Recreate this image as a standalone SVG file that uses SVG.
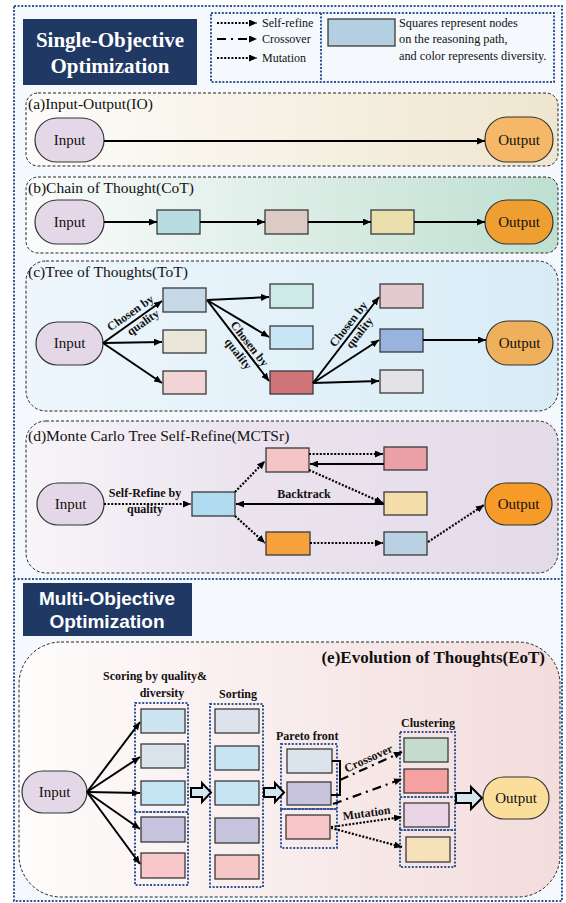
<svg xmlns="http://www.w3.org/2000/svg" width="566" height="903" viewBox="0 0 566 903">
<defs>
<marker id="ah" viewBox="0 0 8 7" refX="8" refY="3.5" markerWidth="8" markerHeight="7" markerUnits="userSpaceOnUse" orient="auto"><path d="M0,0 L8,3.5 L0,7 z" fill="#000"/></marker>
<linearGradient id="gA" x1="0" y1="0" x2="1" y2="0"><stop offset="0" stop-color="#fdfcfa"/><stop offset="1" stop-color="#efe6cf"/></linearGradient>
<linearGradient id="gB" x1="0" y1="0" x2="1" y2="0"><stop offset="0" stop-color="#fbfcfc"/><stop offset="1" stop-color="#bedfd1"/></linearGradient>
<linearGradient id="gC" x1="0" y1="0" x2="1" y2="0"><stop offset="0" stop-color="#eef6fc"/><stop offset="1" stop-color="#d8ecf6"/></linearGradient>
<linearGradient id="gD" x1="0" y1="0" x2="1" y2="0"><stop offset="0" stop-color="#f8f5f9"/><stop offset="0.4" stop-color="#ebe4ee"/><stop offset="1" stop-color="#e4dbe9"/></linearGradient>
<linearGradient id="gE" x1="0" y1="0" x2="1" y2="0"><stop offset="0" stop-color="#fefcfc"/><stop offset="1" stop-color="#f3dcdc"/></linearGradient>
</defs>
<style>
.box{stroke:#222;stroke-width:1;stroke-dasharray:3 2;}
.pill{stroke:#333;stroke-width:1.2;}
.rc{stroke:#3a3a3a;stroke-width:1.3;}
.blue{fill:none;stroke:#2f5597;stroke-width:2;stroke-dasharray:2 1.6;}
.t{font-family:"Liberation Serif","Times New Roman",serif;fill:#111;}
.nt{font-family:"Liberation Serif","Times New Roman",serif;fill:#111;font-size:15px;text-anchor:middle;}
.ttl{font-family:"Liberation Serif","Times New Roman",serif;fill:#111;font-size:15.5px;}
.lbl{font-family:"Liberation Serif","Times New Roman",serif;fill:#111;font-weight:bold;font-size:12px;text-anchor:middle;}
.sl{fill:none;stroke:#000;stroke-width:2;marker-end:url(#ah);}
.dl{fill:none;stroke:#000;stroke-width:2.2;stroke-dasharray:2 1.6;marker-end:url(#ah);}
.dd{fill:none;stroke:#000;stroke-width:2.2;stroke-dasharray:9 5 2 5;marker-end:url(#ah);}
.blk{fill:#d5e6ee;stroke:#000;stroke-width:2;stroke-linejoin:miter;}
.in{fill:#e4d8e8;}
</style>

<g id="frame">
<rect x="14" y="6" width="548" height="895" fill="#f5f9fd"/>
<rect x="14" y="6" width="548" height="895" class="blue"/>
<line x1="14" y1="579" x2="562" y2="579" class="blue"/>
</g>

<g id="title-single">
<rect x="23" y="19" width="174" height="66" fill="#1f3864"/>
<text x="110" y="47" font-family="Liberation Serif, serif" font-weight="bold" font-size="21" fill="#fff" text-anchor="middle">Single-Objective</text>
<text x="110" y="73" font-family="Liberation Serif, serif" font-weight="bold" font-size="21" fill="#fff" text-anchor="middle">Optimization</text>
</g>

<g id="legend">
<rect x="211" y="13" width="343" height="69" class="blue"/>
<line x1="321" y1="13" x2="321" y2="82" class="blue"/>
<path d="M217,23 H257" class="dl"/>
<path d="M217,39 H257" class="dd"/>
<path d="M217,58 H257" class="dl"/>
<text x="262" y="27" class="t" font-size="12">Self-refine</text>
<text x="262" y="43" class="t" font-size="12">Crossover</text>
<text x="262" y="62" class="t" font-size="12">Mutation</text>
<rect x="328" y="19" width="67" height="27" fill="#b4cee2" class="rc"/>
<text x="399" y="27" class="t" font-size="12.3">Squares represent nodes</text>
<text x="399" y="43" class="t" font-size="12.3">on the reasoning path,</text>
<text x="399" y="60" class="t" font-size="12.3">and color represents diversity.</text>
</g>

<g id="panel-a">
<rect x="26" y="93" width="532" height="73" rx="12" fill="url(#gA)" class="box"/>
<text x="28" y="109" class="ttl">(a)Input-Output(IO)</text>
</g>
<g id="a-input"><rect x="35" y="118" width="69" height="44" rx="22" class="pill in"/><text x="69.5" y="145" class="nt">Input</text></g>
<g id="a-output"><rect x="485" y="117" width="68" height="45" rx="22" fill="#f5b868" class="pill"/><text x="519" y="145" class="nt">Output</text></g>

<g id="panel-b">
<rect x="26" y="177" width="532" height="76" rx="12" fill="url(#gB)" class="box"/>
<text x="28" y="193" class="ttl">(b)Chain of Thought(CoT)</text>
</g>
<g id="b-input"><rect x="35" y="200" width="69" height="44" rx="22" class="pill in"/><text x="69.5" y="227" class="nt">Input</text></g>
<g id="b-n1"><rect x="157" y="210" width="43" height="24" fill="#b8dde0" class="rc"/></g>
<g id="b-n2"><rect x="265" y="210" width="43" height="24" fill="#dccbc4" class="rc"/></g>
<g id="b-n3"><rect x="371" y="210" width="43" height="24" fill="#e8dfad" class="rc"/></g>
<g id="b-output"><rect x="485" y="200" width="68" height="44" rx="22" fill="#ef9f32" class="pill"/><text x="519" y="227" class="nt">Output</text></g>

<g id="panel-c">
<rect x="26" y="261" width="532" height="150" rx="20" fill="url(#gC)" class="box"/>
<text x="28" y="277" class="ttl">(c)Tree of Thoughts(ToT)</text>
</g>
<g id="c-input"><rect x="36" y="322" width="67" height="43" rx="21.5" class="pill in"/><text x="69.5" y="348" class="nt">Input</text></g>
<g id="c-n1"><rect x="163" y="288" width="43" height="24" fill="#c5d9e9" class="rc"/></g>
<g id="c-n2"><rect x="163" y="330" width="43" height="23" fill="#ebe6da" class="rc"/></g>
<g id="c-n3"><rect x="163" y="371" width="43" height="23" fill="#f2d3d6" class="rc"/></g>
<g id="c-n4"><rect x="270" y="284" width="43" height="24" fill="#cdeae8" class="rc"/></g>
<g id="c-n5"><rect x="270" y="326" width="43" height="23" fill="#c8e6f6" class="rc"/></g>
<g id="c-n6"><rect x="270" y="371" width="43" height="23" fill="#cf7479" class="rc"/></g>
<g id="c-n7"><rect x="380" y="284" width="43" height="24" fill="#e4c9d1" class="rc"/></g>
<g id="c-n8"><rect x="380" y="329" width="43" height="23" fill="#98b3dd" class="rc"/></g>
<g id="c-n9"><rect x="380" y="370" width="43" height="23" fill="#e2e2e7" class="rc"/></g>
<g id="c-output"><rect x="486" y="321" width="67" height="44" rx="22" fill="#efb05c" class="pill"/><text x="519.5" y="348" class="nt">Output</text></g>

<g id="panel-d">
<rect x="26" y="421" width="532" height="152" rx="20" fill="url(#gD)" class="box"/>
<text x="28" y="441" class="ttl">(d)Monte Carlo Tree Self-Refine(MCTSr)</text>
</g>
<g id="d-input"><rect x="37" y="483" width="67" height="42" rx="21" class="pill in"/><text x="70.5" y="509" class="nt">Input</text></g>
<g id="d-n1"><rect x="192" y="492" width="43" height="24" fill="#b0dbf1" class="rc"/></g>
<g id="d-n2"><rect x="266" y="448" width="43" height="24" fill="#f5c4c4" class="rc"/></g>
<g id="d-n3"><rect x="384" y="447" width="43" height="23" fill="#eba0a8" class="rc"/></g>
<g id="d-n4"><rect x="384" y="492" width="43" height="23" fill="#f5dcab" class="rc"/></g>
<g id="d-n5"><rect x="266" y="532" width="44" height="23" fill="#f6a13c" class="rc"/></g>
<g id="d-n6"><rect x="384" y="532" width="43" height="23" fill="#bad0e3" class="rc"/></g>
<g id="d-output"><rect x="485" y="483" width="67" height="42" rx="21" fill="#f79b28" class="pill"/><text x="518.5" y="509" class="nt">Output</text></g>

<g id="title-multi">
<rect x="23" y="583" width="169" height="53" fill="#1f3864"/>
<text x="107" y="605" font-family="Liberation Sans, Arial, sans-serif" font-weight="bold" font-size="19" fill="#fff" text-anchor="middle">Multi-Objective</text>
<text x="107" y="628" font-family="Liberation Sans, Arial, sans-serif" font-weight="bold" font-size="19" fill="#fff" text-anchor="middle">Optimization</text>
</g>

<g id="panel-e">
<rect x="19" y="642" width="541" height="255" rx="42" fill="url(#gE)" class="box"/>
<text x="545" y="663" class="t" font-size="17" font-weight="bold" text-anchor="end">(e)Evolution of Thoughts(EoT)</text>
<text x="155" y="680" class="lbl">Scoring by quality&amp;</text>
<text x="162" y="697" class="lbl">diversity</text>
<text x="238" y="698" class="lbl">Sorting</text>
<text x="276" y="740" class="lbl" text-anchor="start" style="text-anchor:start">Pareto front</text>
<text x="428" y="727" class="lbl">Clustering</text>
</g>
<g id="e-input"><rect x="22" y="771" width="65" height="42" rx="21" class="pill in"/><text x="54.5" y="797" class="nt">Input</text></g>

<g id="e-scoring">
<rect x="135" y="703" width="53" height="109" class="blue"/>
<rect x="135" y="812" width="53" height="73" class="blue"/>
<rect x="141" y="709" width="44" height="24" fill="#cde4f1" class="rc"/>
<rect x="141" y="744" width="44" height="24" fill="#dae3ec" class="rc"/>
<rect x="141" y="781" width="44" height="24" fill="#c5e4f3" class="rc"/>
<rect x="141" y="817" width="44" height="25" fill="#c5c3dd" class="rc"/>
<rect x="141" y="853" width="44" height="25" fill="#f7c7c9" class="rc"/>
</g>
<g id="e-sorting">
<rect x="210" y="704" width="53" height="183" class="blue"/>
<rect x="215" y="709" width="44" height="24" fill="#dde3ec" class="rc"/>
<rect x="215" y="746" width="44" height="24" fill="#c8e4f3" class="rc"/>
<rect x="215" y="781" width="44" height="24" fill="#c6e4f3" class="rc"/>
<rect x="215" y="818" width="44" height="25" fill="#c6c3dd" class="rc"/>
<rect x="215" y="855" width="44" height="24" fill="#f7c6c6" class="rc"/>
</g>
<g id="e-pareto">
<rect x="281" y="744" width="56" height="65" class="blue"/>
<rect x="281" y="809" width="56" height="39" class="blue"/>
<rect x="287" y="749" width="45" height="24" fill="#dbe3ec" class="rc"/>
<rect x="287" y="782" width="44" height="23" fill="#c8c3dc" class="rc"/>
<rect x="286" y="815" width="44" height="24" fill="#f7c6c9" class="rc"/>
</g>
<g id="e-clustering">
<rect x="400" y="732" width="55" height="65" class="blue"/>
<rect x="400" y="797" width="55" height="33" class="blue"/>
<rect x="400" y="830" width="55" height="37" class="blue"/>
<rect x="404" y="738" width="44" height="24" fill="#c5dccd" class="rc"/>
<rect x="404" y="769" width="44" height="24" fill="#f6a1a1" class="rc"/>
<rect x="404" y="803" width="45" height="24" fill="#e9d4e5" class="rc"/>
<rect x="406" y="837" width="44" height="25" fill="#f6e2ba" class="rc"/>
</g>
<g id="e-output"><rect x="483" y="777" width="66" height="42" rx="21" fill="#fbdd9c" class="pill"/><text x="516" y="803" class="nt">Output</text></g>

<g id="connectors">
<!-- a -->
<path d="M104,141 H485" class="sl"/>
<!-- b -->
<path d="M104,222 H157" class="sl"/>
<path d="M200,222 H265" class="sl"/>
<path d="M308,222 H371" class="sl"/>
<path d="M414,222 H485" class="sl"/>
<!-- c -->
<path d="M103,343 L162,301" class="sl"/>
<path d="M103,343 L162,342" class="sl"/>
<path d="M103,343 L162,383" class="sl"/>
<path d="M207,300 L269,297" class="sl"/>
<path d="M207,300 L269,337" class="sl"/>
<path d="M207,300 L269,381" class="sl"/>
<path d="M313,383 L379,297" class="sl"/>
<path d="M313,383 L379,340" class="sl"/>
<path d="M313,383 L379,381" class="sl"/>
<path d="M423,340 H486" class="sl"/>
<g transform="translate(133,322) rotate(-35)"><text x="3" y="-5" class="lbl" font-size="11.5">Chosen by</text><text x="8" y="10" class="lbl" font-size="11.5">quality</text></g>
<g transform="translate(238.5,341) rotate(52)"><text x="9" y="-3" class="lbl" font-size="11.5">Chosen by</text><text x="10" y="12" class="lbl" font-size="11.5">quality</text></g>
<g transform="translate(346,340) rotate(-52)"><text x="14" y="-4" class="lbl" font-size="11.5">Chosen by</text><text x="14" y="10" class="lbl" font-size="11.5">quality</text></g>
<!-- d -->
<path d="M104,504 L191,504" class="dl"/>
<text x="145" y="497" class="lbl">Self-Refine by</text>
<text x="145" y="513" class="lbl">quality</text>
<path d="M235,492 L265,461" class="dl"/>
<path d="M309,454 L383,454" class="dl"/>
<path d="M384,464 L310,464" class="sl"/>
<path d="M309,470 L383,503" class="dl"/>
<path d="M384,504 L236,504" class="sl"/>
<text x="304" y="498" class="lbl">Backtrack</text>
<path d="M235,516 L265,543" class="dl"/>
<path d="M310,543 L383,543" class="dl"/>
<path d="M428,542 L484,505" class="dl"/>
<!-- e -->
<path d="M87,792 L140,722" class="sl"/>
<path d="M87,792 L140,757" class="sl"/>
<path d="M87,792 L140,793" class="sl"/>
<path d="M87,792 L140,829" class="sl"/>
<path d="M87,792 L140,864" class="sl"/>
<path d="M191,788 H202 V783 L211,792.5 L202,802 V797 H191 Z" class="blk"/>
<path d="M264,788 H275 V783 L284,792.5 L275,802 V797 H264 Z" class="blk"/>
<path d="M456,793 H471 V787 L482,798 L471,809 V803 H456 Z" class="blk"/>
<path d="M332,761 H340 V795 H331" fill="none" stroke="#000" stroke-width="2"/>
<path d="M340,780 L402,752" class="dd"/>
<path d="M333,804 L402,779" class="dd"/>
<path d="M331,827 L402,817" class="dl"/>
<path d="M331,828 L402,847" class="dl"/>
<text x="370" y="762" class="lbl" transform="rotate(-24.3 370 762)">Crossover</text>
<text x="367" y="817" class="lbl" transform="rotate(-8 367 817)">Mutation</text>
</g>
</svg>
